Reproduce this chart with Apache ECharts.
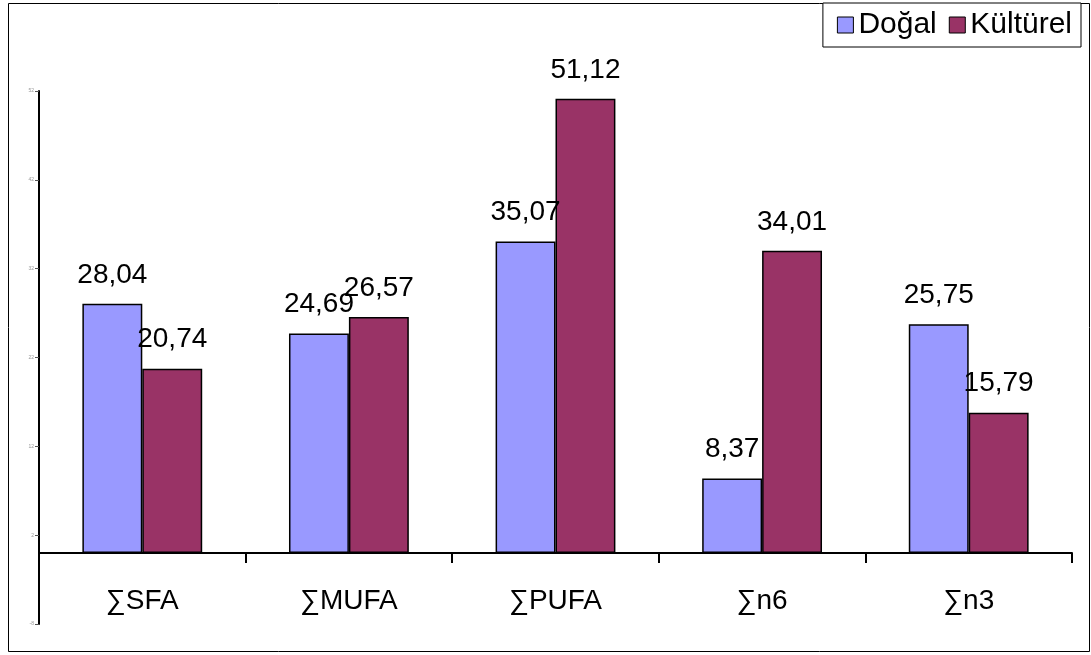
<!DOCTYPE html>
<html>
<head>
<meta charset="utf-8">
<script src="https://cdn.jsdelivr.net/npm/echarts@6/dist/echarts.min.js"></script>
<style>
  html, body { margin: 0; padding: 0; background: #fff; }
  #chart { width: 1091px; height: 655px; }
</style>
</head>
<body>
<div id="chart"></div>
<script>
// Fatty acid group totals for natural vs. cultured samples
var categories = ['∑SFA', '∑MUFA', '∑PUFA', '∑n6', '∑n3'];
var dogal = [28.04, 24.69, 35.07, 8.37, 25.75];
var kulturel = [20.74, 26.57, 51.12, 34.01, 15.79];
var yMin = -8, yMax = 52, yStep = 10;

var font = '"Liberation Sans", Arial, sans-serif';
var fmt = function (p) { return p.value.toFixed(2).replace('.', ','); };

var chart = echarts.init(document.getElementById('chart'));
chart.setOption({
  animation: false,
  backgroundColor: '#fff',
  textStyle: { fontFamily: font },
  graphic: [{
    type: 'rect',
    shape: { x: 8.5, y: 3.5, width: 1081, height: 648 },
    style: { fill: 'none', stroke: '#000', lineWidth: 1 },
    z: -1
  }],
  legend: {
    right: 10, top: 3,
    orient: 'horizontal',
    padding: [7, 9, 7, 14],
    itemGap: 12,
    itemWidth: 16, itemHeight: 16,
    borderColor: '#000', borderWidth: 1,
    backgroundColor: '#fff',
    icon: 'rect',
    itemStyle: { borderColor: '#000', borderWidth: 1 },
    textStyle: { fontSize: 30, color: '#000', fontFamily: font, padding: [0, 0, 0, 0] },
    data: ['Doğal', 'Kültürel']
  },
  grid: { left: 39, right: 19, top: 91, bottom: 31, containLabel: false, outerBoundsMode: 'none' },
  xAxis: {
    type: 'category',
    data: categories,
    axisLine: { onZero: true, lineStyle: { color: '#000', width: 2 } },
    axisTick: { show: true, length: 10, lineStyle: { color: '#000', width: 2 } },
    axisLabel: { fontSize: 28, color: '#000', margin: -37, fontFamily: font }
  },
  yAxis: {
    type: 'value',
    min: yMin, max: yMax, interval: yStep,
    splitLine: { show: false },
    axisLine: { show: true, lineStyle: { color: '#000', width: 2 } },
    axisTick: { show: true, length: 4, lineStyle: { color: '#555', width: 1 } },
    axisLabel: { fontSize: 5, color: '#999', margin: 5, fontFamily: font }
  },
  series: [{
    name: 'Doğal',
    type: 'bar',
    data: dogal,
    barGap: '0%',
    barCategoryGap: '42%',
    itemStyle: { color: '#9999FF', borderColor: '#000', borderWidth: 1.5 },
    label: { show: true, position: 'top', distance: 15, fontSize: 28, color: '#000', fontFamily: font, formatter: fmt }
  }, {
    name: 'Kültürel',
    type: 'bar',
    data: kulturel,
    barGap: '0%',
    barCategoryGap: '42%',
    itemStyle: { color: '#993366', borderColor: '#000', borderWidth: 1.5 },
    label: { show: true, position: 'top', distance: 15, fontSize: 28, color: '#000', fontFamily: font, formatter: fmt }
  }]
});
</script>
</body>
</html>
